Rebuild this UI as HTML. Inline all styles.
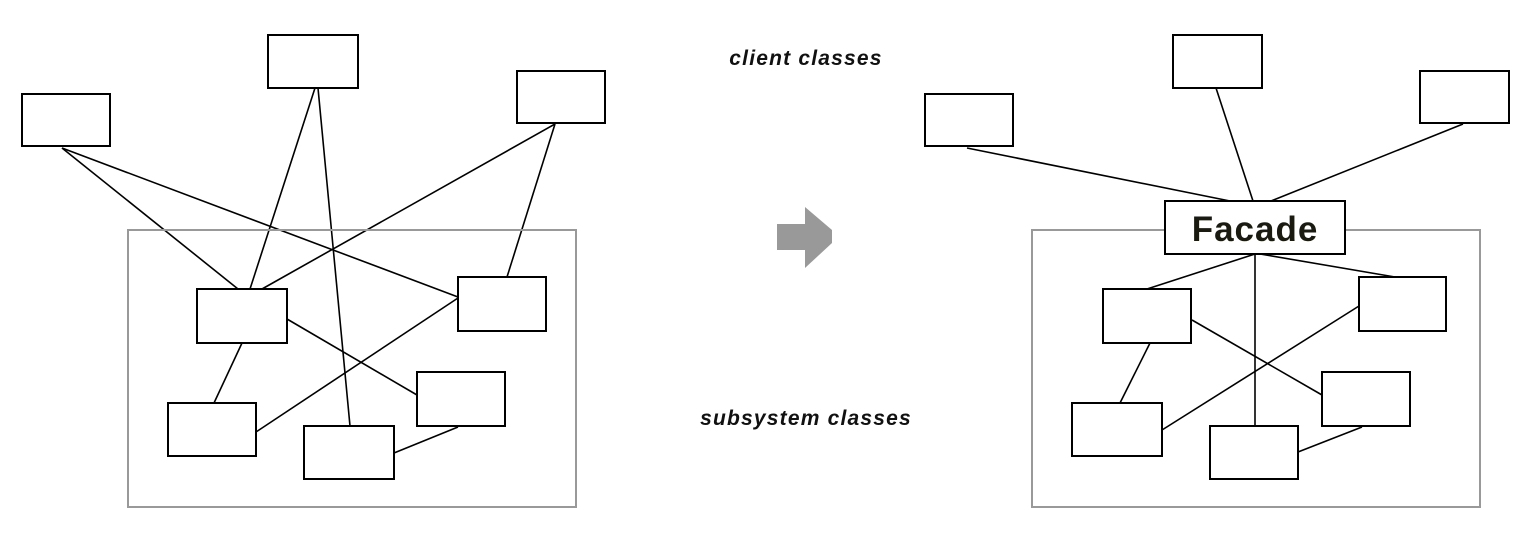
<!DOCTYPE html>
<html><head><meta charset="utf-8"><style>
html,body{margin:0;padding:0;background:#fff;width:1536px;height:538px;overflow:hidden}
</style></head><body>
<svg width="1536" height="538" xmlns="http://www.w3.org/2000/svg">
<g fill="none" stroke="#000" stroke-width="1.6">
<line x1="62" y1="148" x2="238" y2="289"/>
<line x1="62" y1="148" x2="458" y2="297"/>
<line x1="315" y1="88" x2="250" y2="289"/>
<line x1="318" y1="88" x2="350" y2="426"/>
<line x1="555" y1="124" x2="262" y2="289"/>
<line x1="555" y1="124" x2="507" y2="277"/>
<line x1="287" y1="319" x2="417" y2="395"/>
<line x1="242" y1="343" x2="214" y2="403"/>
<line x1="458" y1="298" x2="256" y2="432"/>
<line x1="458" y1="427" x2="394" y2="453"/>
<line x1="967" y1="148" x2="1230" y2="201"/>
<line x1="1216" y1="88" x2="1253" y2="201"/>
<line x1="1463" y1="124" x2="1271" y2="201"/>
<line x1="1255" y1="254" x2="1147" y2="289"/>
<line x1="1260" y1="254" x2="1395" y2="277"/>
<line x1="1255" y1="254" x2="1255" y2="426"/>
<line x1="1192" y1="320" x2="1322" y2="395"/>
<line x1="1150" y1="343" x2="1120" y2="403"/>
<line x1="1359" y1="306" x2="1162" y2="430"/>
<line x1="1362" y1="427" x2="1298" y2="452"/>
</g>
<g fill="none" stroke="#999" stroke-width="2">
<rect x="128" y="230" width="448" height="277"/>
<rect x="1032" y="230" width="448" height="277"/>
</g>
<g fill="#fff" stroke="#000" stroke-width="2">
<rect x="22" y="94" width="88" height="52"/>
<rect x="268" y="35" width="90" height="53"/>
<rect x="517" y="71" width="88" height="52"/>
<rect x="197" y="289" width="90" height="54"/>
<rect x="458" y="277" width="88" height="54"/>
<rect x="417" y="372" width="88" height="54"/>
<rect x="168" y="403" width="88" height="53"/>
<rect x="304" y="426" width="90" height="53"/>
<rect x="925" y="94" width="88" height="52"/>
<rect x="1173" y="35" width="89" height="53"/>
<rect x="1420" y="71" width="89" height="52"/>
<rect x="1165" y="201" width="180" height="53"/>
<rect x="1103" y="289" width="88" height="54"/>
<rect x="1359" y="277" width="87" height="54"/>
<rect x="1322" y="372" width="88" height="54"/>
<rect x="1072" y="403" width="90" height="53"/>
<rect x="1210" y="426" width="88" height="53"/>
</g>
<text x="1255" y="241" text-anchor="middle" font-family="Liberation Sans, sans-serif" font-weight="bold" font-size="35" letter-spacing="1" fill="#1a1a10">Facade</text>
<text x="806" y="65" text-anchor="middle" font-family="Liberation Sans, sans-serif" font-weight="bold" font-style="italic" font-size="21" letter-spacing="1.2" fill="#111">client classes</text>
<text x="806" y="425" text-anchor="middle" font-family="Liberation Sans, sans-serif" font-weight="bold" font-style="italic" font-size="21" letter-spacing="1.2" fill="#111">subsystem classes</text>
<polygon points="777,224 805,224 805,207 832,230 832,243 805,268 805,250 777,250" fill="#999"/>
</svg>
</body></html>
